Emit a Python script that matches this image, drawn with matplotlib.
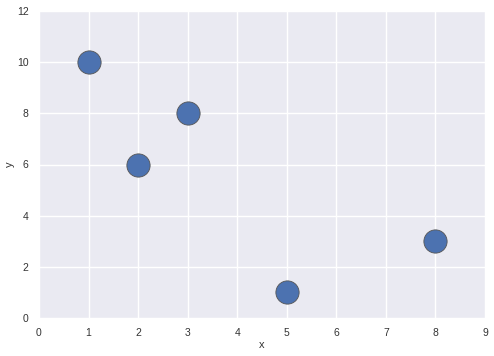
import matplotlib
matplotlib.use("Agg")
import matplotlib.pyplot as plt
import seaborn as sns

sns.set_style("darkgrid")
plt.rcParams['font.family'] = ['Liberation Sans', 'DejaVu Sans']

x = [1, 2, 3, 5, 8]
y = [10, 6, 8, 1, 3]

fig = plt.figure(figsize=(4.94, 3.56), dpi=100)
ax = fig.add_axes([39 / 494, 38 / 356, 446 / 494, 307 / 356])
ax.scatter(x, y, s=280, color="#4C72B0", edgecolor="#555555", linewidth=0.6, zorder=3)
ax.set_xlim(0, 9)
ax.set_ylim(0, 12)
ax.set_xticks(range(0, 10))
ax.set_yticks(range(0, 13, 2))
ax.tick_params(labelsize=7.5, colors="#333333", pad=4)
ax.set_xlabel("x", fontsize=8, color="#333333", labelpad=1)
ax.set_ylabel("y", fontsize=8, color="#333333", labelpad=1)
ax.grid(color="white", linewidth=1)

fig.savefig("out.png", dpi=100)
